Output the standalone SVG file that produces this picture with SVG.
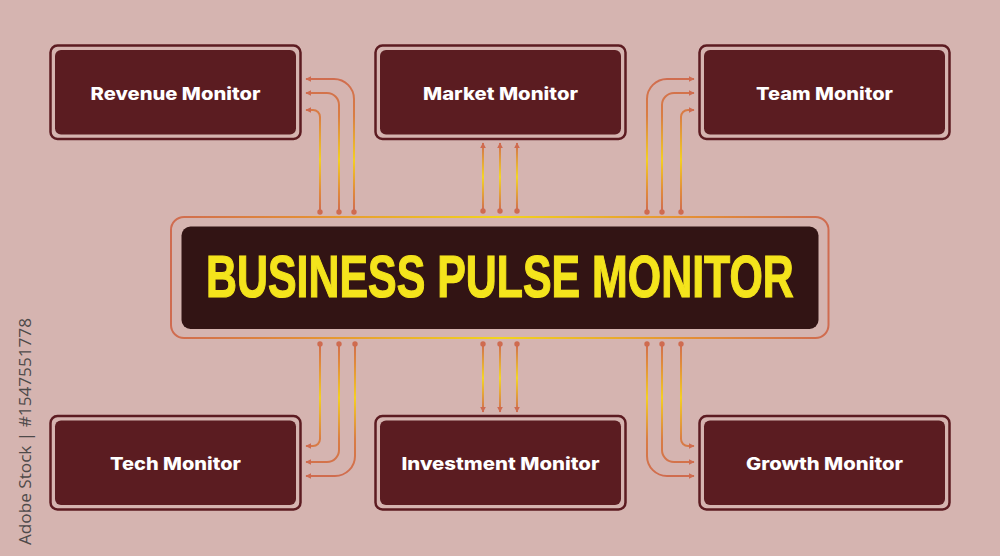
<svg xmlns="http://www.w3.org/2000/svg" width="1000" height="556" viewBox="0 0 1000 556">
<style>
.bg{fill:#d5b4b0}
.nodeOuter{fill:none;stroke:#5c1b21;stroke-width:2.5}
.nodeInner{fill:#5b1c21}
.nodeText{font-family:Inter,"Liberation Sans",sans-serif;font-weight:800;font-size:17px;fill:#ffffff;text-anchor:middle}
.title{font-family:"Liberation Sans",Arial,sans-serif;font-weight:700;font-size:60px;fill:#f4e41c;stroke:#f4e41c;stroke-width:1.2}
.conn{fill:none;stroke-width:2}
.dot{fill:#cf6b50}
.side{font-family:"Open Sans","Liberation Sans",sans-serif;font-size:17px;fill:#4e4a4a}
</style>
<defs>
<marker id="arr" viewBox="0 0 10 10" refX="9" refY="5" markerWidth="3" markerHeight="3" orient="auto" markerUnits="strokeWidth">
<path d="M0,0 L10,5 L0,10 Z" fill="#cf6b50"/>
</marker>
<linearGradient id="gTop" gradientUnits="userSpaceOnUse" x1="0" y1="75" x2="0" y2="212">
<stop offset="0" stop-color="#cf6b50"/><stop offset="0.3" stop-color="#d97d44"/><stop offset="0.62" stop-color="#f4cf22"/><stop offset="0.85" stop-color="#e08a3c"/><stop offset="1" stop-color="#cf6b50"/>
</linearGradient>
<linearGradient id="gBot" gradientUnits="userSpaceOnUse" x1="0" y1="343" x2="0" y2="480">
<stop offset="0" stop-color="#cf6b50"/><stop offset="0.15" stop-color="#e08a3c"/><stop offset="0.4" stop-color="#f4cf22"/><stop offset="0.7" stop-color="#d97d44"/><stop offset="1" stop-color="#cf6b50"/>
</linearGradient>
<linearGradient id="gTopMid" gradientUnits="userSpaceOnUse" x1="0" y1="143" x2="0" y2="211">
<stop offset="0" stop-color="#cf6b50"/><stop offset="0.5" stop-color="#f4d526"/><stop offset="1" stop-color="#cf6b50"/>
</linearGradient>
<linearGradient id="gBotMid" gradientUnits="userSpaceOnUse" x1="0" y1="344" x2="0" y2="412">
<stop offset="0" stop-color="#cf6b50"/><stop offset="0.5" stop-color="#f4d526"/><stop offset="1" stop-color="#cf6b50"/>
</linearGradient>
<linearGradient id="gFrame" gradientUnits="userSpaceOnUse" x1="170" y1="0" x2="829" y2="0">
<stop offset="0" stop-color="#cf6b50"/><stop offset="0.2" stop-color="#e38d36"/><stop offset="0.5" stop-color="#f2d41c"/><stop offset="0.8" stop-color="#e38d36"/><stop offset="1" stop-color="#cf6b50"/>
</linearGradient>
</defs>
<rect class="bg" x="0" y="0" width="1000" height="556"/>

<text class="side" transform="translate(31,545) rotate(-90)" textLength="227" lengthAdjust="spacingAndGlyphs">Adobe Stock | #1547551778</text>

<g id="connectors">
<g stroke="url(#gTop)" class="conn" marker-end="url(#arr)">
<path d="M354,212 V99 A20,20 0 0 0 334,79 H306"/>
<path d="M339,212 V105 A12,12 0 0 0 327,93 H306"/>
<path d="M320,212 V117 A7,7 0 0 0 313,110 H306"/>
<path d="M647,212 V99 A20,20 0 0 1 667,79 H694"/>
<path d="M662,212 V105 A12,12 0 0 1 674,93 H694"/>
<path d="M681,212 V117 A7,7 0 0 1 688,110 H694"/>
</g>
<g stroke="url(#gTopMid)" class="conn" marker-end="url(#arr)">
<path d="M483,211 V143"/>
<path d="M500,211 V143"/>
<path d="M517,211 V143"/>
</g>
<g stroke="url(#gBot)" class="conn" marker-end="url(#arr)">
<path d="M320,344 V439 A7,7 0 0 1 313,446 H306"/>
<path d="M339,344 V450 A12,12 0 0 1 327,462 H306"/>
<path d="M355,344 V456 A20,20 0 0 1 335,476 H306"/>
<path d="M681,344 V439 A7,7 0 0 0 688,446 H694"/>
<path d="M662,344 V450 A12,12 0 0 0 674,462 H694"/>
<path d="M647,344 V456 A20,20 0 0 0 667,476 H694"/>
</g>
<g stroke="url(#gBotMid)" class="conn" marker-end="url(#arr)">
<path d="M483,344 V412"/>
<path d="M500,344 V412"/>
<path d="M517,344 V412"/>
</g>
<g class="dot">
<circle cx="320" cy="212" r="2.7"/><circle cx="339" cy="212" r="2.7"/><circle cx="354" cy="212" r="2.7"/>
<circle cx="483" cy="211" r="2.7"/><circle cx="500" cy="211" r="2.7"/><circle cx="517" cy="211" r="2.7"/>
<circle cx="647" cy="212" r="2.7"/><circle cx="662" cy="212" r="2.7"/><circle cx="681" cy="212" r="2.7"/>
<circle cx="320" cy="344" r="2.7"/><circle cx="339" cy="344" r="2.7"/><circle cx="355" cy="344" r="2.7"/>
<circle cx="483" cy="344" r="2.7"/><circle cx="500" cy="344" r="2.7"/><circle cx="517" cy="344" r="2.7"/>
<circle cx="647" cy="344" r="2.7"/><circle cx="662" cy="344" r="2.7"/><circle cx="681" cy="344" r="2.7"/>
</g>
</g>

<g id="center">
<rect x="171" y="217" width="657.5" height="121" rx="13" fill="none" stroke="url(#gFrame)" stroke-width="2"/>
<rect x="181.5" y="226.5" width="637" height="102.5" rx="9" fill="#321414"/>
<text class="title" transform="translate(206,297) scale(0.715,1)" x="0" y="0">BUSINESS PULSE MONITOR</text>
</g>

<g id="revenue">
<rect class="nodeOuter" x="50.5" y="45.5" width="250" height="93.5" rx="7"/>
<rect class="nodeInner" x="55" y="50" width="241" height="84.5" rx="6"/>
<text class="nodeText" x="175.5" y="100" textLength="170" lengthAdjust="spacingAndGlyphs">Revenue Monitor</text>
</g>
<g id="market">
<rect class="nodeOuter" x="375.5" y="45.5" width="250" height="93.5" rx="7"/>
<rect class="nodeInner" x="380" y="50" width="241" height="84.5" rx="6"/>
<text class="nodeText" x="500.5" y="100" textLength="155" lengthAdjust="spacingAndGlyphs">Market Monitor</text>
</g>
<g id="team">
<rect class="nodeOuter" x="699.5" y="45.5" width="250" height="93.5" rx="7"/>
<rect class="nodeInner" x="704" y="50" width="241" height="84.5" rx="6"/>
<text class="nodeText" x="824.5" y="100" textLength="137" lengthAdjust="spacingAndGlyphs">Team Monitor</text>
</g>
<g id="tech">
<rect class="nodeOuter" x="50.5" y="416" width="250" height="93.5" rx="7"/>
<rect class="nodeInner" x="55" y="420.5" width="241" height="84.5" rx="6"/>
<text class="nodeText" x="175.5" y="470" textLength="131" lengthAdjust="spacingAndGlyphs">Tech Monitor</text>
</g>
<g id="investment">
<rect class="nodeOuter" x="375.5" y="416" width="250" height="93.5" rx="7"/>
<rect class="nodeInner" x="380" y="420.5" width="241" height="84.5" rx="6"/>
<text class="nodeText" x="500.5" y="470" textLength="198" lengthAdjust="spacingAndGlyphs">Investment Monitor</text>
</g>
<g id="growth">
<rect class="nodeOuter" x="699.5" y="416" width="250" height="93.5" rx="7"/>
<rect class="nodeInner" x="704" y="420.5" width="241" height="84.5" rx="6"/>
<text class="nodeText" x="824.5" y="470" textLength="157" lengthAdjust="spacingAndGlyphs">Growth Monitor</text>
</g>
</svg>
